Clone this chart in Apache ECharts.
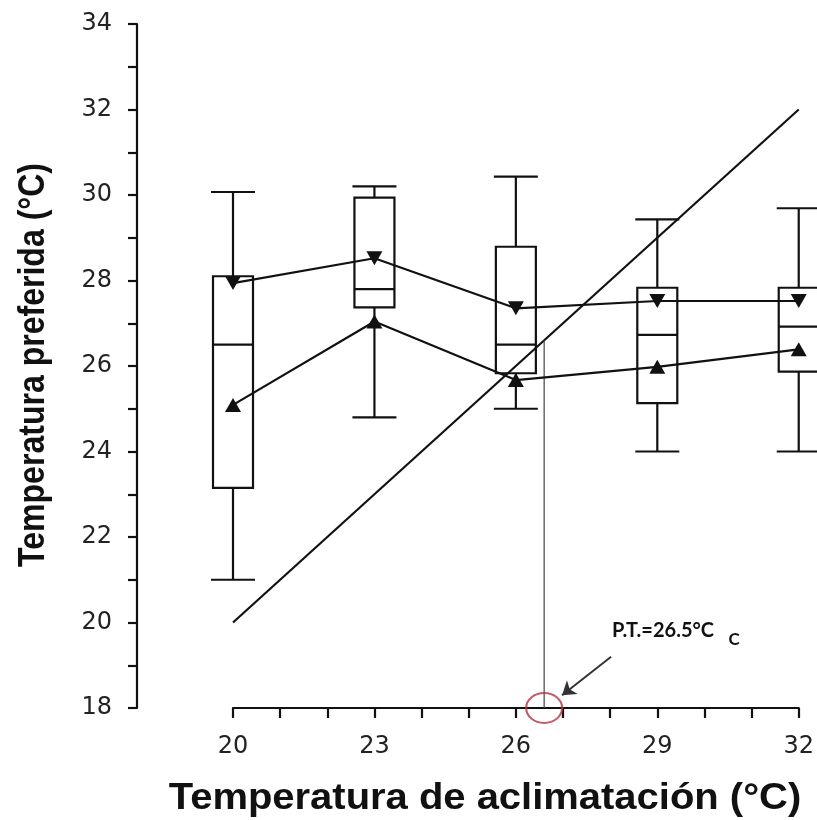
<!DOCTYPE html>
<html>
<head>
<meta charset="utf-8">
<script src="https://cdn.jsdelivr.net/npm/echarts@6/dist/echarts.min.js"></script>
<style>
html,body{margin:0;padding:0;background:#fff;}
#chart{width:817px;height:820px;}
</style>
</head>
<body>
<div id="chart"></div>
<script>
// ---- data ----
const acclimation = [20, 23, 26, 29, 32];
const whiskerLow  = [21.0, 24.8, 25.0, 24.0, 24.0];
const q1          = [23.15, 27.37, 25.83, 25.13, 25.87];
const median      = [26.5, 27.8, 26.5, 26.73, 26.92];
const q3          = [28.1, 29.94, 28.79, 27.83, 27.83];
const whiskerHigh = [30.07, 30.2, 30.43, 29.43, 29.69];
const meanDown    = [27.94, 28.52, 27.35, 27.52, 27.52];
const meanUp      = [25.09, 27.04, 25.67, 25.98, 26.39];
const identityX   = [20, 32];
const ptValue     = 26.6;
const ptLabel     = 'P.T.=26.5°C';
const yTicks      = {min: 18, max: 34, step: 1};
const xTicks      = {min: 20, max: 32, step: 1, labelEvery: 3};
const arrowFrom   = [28.02, 19.2];
const arrowTo     = [26.98, 18.3];

const boxData = acclimation.map((x, i) => [x, whiskerLow[i], q1[i], median[i], q3[i], whiskerHigh[i]]);
const downData = acclimation.map((x, i) => [x, meanDown[i]]);
const upData = acclimation.map((x, i) => [x, meanUp[i]]);
const identityData = identityX.map(v => [v, v]);

const chart = echarts.init(document.getElementById('chart'));
const black = '#111';

function renderBox(params, api) {
  const x = api.value(0);
  const pMin = api.coord([x, api.value(1)]);
  const pQ1 = api.coord([x, api.value(2)]);
  const pMed = api.coord([x, api.value(3)]);
  const pQ3 = api.coord([x, api.value(4)]);
  const pMax = api.coord([x, api.value(5)]);
  const hw = 20, cw = 22;
  const st = {stroke: black, lineWidth: 2.2, fill: 'none'};
  return {
    type: 'group',
    children: [
      {type: 'rect', shape: {x: pQ1[0] - hw, y: pQ3[1], width: hw * 2, height: pQ1[1] - pQ3[1]}, style: st},
      {type: 'line', shape: {x1: pMed[0] - hw, y1: pMed[1], x2: pMed[0] + hw, y2: pMed[1]}, style: st},
      {type: 'line', shape: {x1: pQ3[0], y1: pQ3[1], x2: pMax[0], y2: pMax[1]}, style: st},
      {type: 'line', shape: {x1: pQ1[0], y1: pQ1[1], x2: pMin[0], y2: pMin[1]}, style: st},
      {type: 'line', shape: {x1: pMax[0] - cw, y1: pMax[1], x2: pMax[0] + cw, y2: pMax[1]}, style: st},
      {type: 'line', shape: {x1: pMin[0] - cw, y1: pMin[1], x2: pMin[0] + cw, y2: pMin[1]}, style: st}
    ]
  };
}

const option = {
  backgroundColor: '#fff',
  animation: false,
  grid: [
    {left: 137, right: 17, top: 24, bottom: 112},
    {left: 233, right: 17, top: 24, bottom: 112}
  ],
  xAxis: [
    {gridIndex: 0, type: 'value', min: 18, max: 32, show: false},
    {
      gridIndex: 1, type: 'value', min: xTicks.min, max: xTicks.max, interval: xTicks.step,
      splitLine: {show: false},
      axisLine: {show: true, lineStyle: {color: black, width: 2.2}},
      axisTick: {show: true, length: 10, lineStyle: {color: black, width: 2.2}},
      axisLabel: {
        margin: 27, fontSize: 24, color: '#222', fontFamily: 'DejaVu Sans',
        formatter: v => ((v - xTicks.min) % xTicks.labelEvery === 0 ? String(v) : '')
      }
    }
  ],
  yAxis: [
    {
      gridIndex: 0, type: 'value', min: yTicks.min, max: yTicks.max, interval: yTicks.step,
      splitLine: {show: false},
      axisLine: {show: true, lineStyle: {color: black, width: 2.2}},
      axisTick: {show: true, length: 9, lineStyle: {color: black, width: 2.2}},
      axisLabel: {
        margin: 25, fontSize: 24, color: '#222', fontFamily: 'DejaVu Sans',
        formatter: v => (v % 2 === 0 ? String(v) : '')
      }
    },
    {gridIndex: 1, type: 'value', min: yTicks.min, max: yTicks.max, show: false}
  ],
  series: [
    {
      name: 'Identidad', type: 'line', xAxisIndex: 1, yAxisIndex: 1,
      data: identityData, symbol: 'none', lineStyle: {color: black, width: 2.2}, z: 2
    },
    {
      name: 'P.T.', type: 'line', xAxisIndex: 1, yAxisIndex: 1,
      data: [[ptValue, ptValue], [ptValue, yTicks.min]], symbol: 'none',
      lineStyle: {color: '#444', width: 1.2}, z: 2,
      markLine: {
        silent: true, symbol: ['none', 'arrow'], symbolSize: 13,
        label: {show: false},
        lineStyle: {color: '#333', width: 2, type: 'solid'},
        emphasis: {disabled: true},
        data: [[{coord: arrowFrom}, {coord: arrowTo}]]
      }
    },
    {
      name: 'Cajas', type: 'custom', xAxisIndex: 1, yAxisIndex: 1,
      data: boxData, renderItem: renderBox, clip: false, z: 3
    },
    {
      name: 'Media (▼)', type: 'line', xAxisIndex: 1, yAxisIndex: 1,
      data: downData, symbol: 'triangle', symbolRotate: 180, symbolSize: [16, 14],
      itemStyle: {color: black}, lineStyle: {color: black, width: 2.2}, z: 4, clip: false
    },
    {
      name: 'Media (▲)', type: 'line', xAxisIndex: 1, yAxisIndex: 1,
      data: upData, symbol: 'triangle', symbolSize: [16, 14],
      itemStyle: {color: black}, lineStyle: {color: black, width: 2.2}, z: 4, clip: false
    },
    {
      name: 'Marca P.T.', type: 'scatter', xAxisIndex: 1, yAxisIndex: 1,
      data: [[ptValue, yTicks.min]], symbol: 'circle', symbolSize: [36, 30], clip: false,
      itemStyle: {color: 'rgba(0,0,0,0)', borderColor: '#b5323e', borderWidth: 2}, z: 5
    }
  ],
  graphic: [
    {
      type: 'text', x: 34, y: 365, rotation: Math.PI / 2, scaleX: 0.89, scaleY: 1.05,
      style: {text: 'Temperatura preferida (°C)', x: 0, y: 0, align: 'center', verticalAlign: 'middle',
        font: 'bold 36px "Liberation Sans", Arial, sans-serif', fill: '#111'}
    },
    {
      type: 'text', x: 485, y: 799, scaleX: 1.11, scaleY: 1.0,
      style: {text: 'Temperatura de aclimatación (°C)', x: 0, y: 0, align: 'center', verticalAlign: 'middle',
        font: 'bold 36px "Liberation Sans", Arial, sans-serif', fill: '#111'}
    },
    {
      type: 'text', x: 612, y: 631,
      style: {text: ptLabel, align: 'left', verticalAlign: 'middle',
        font: 'bold 20px Lato, "Open Sans", sans-serif', fill: '#111'}
    },
    {
      type: 'text', x: 734, y: 640,
      style: {text: 'C', align: 'center', verticalAlign: 'middle',
        font: 'bold 17px Lato, "Open Sans", sans-serif', fill: '#111'}
    }
  ]
};
chart.setOption(option);
</script>
</body>
</html>
